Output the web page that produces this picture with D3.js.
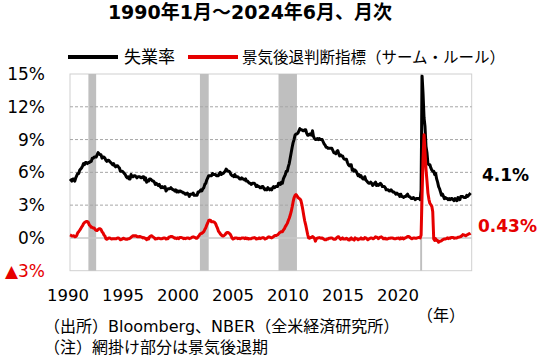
<!DOCTYPE html>
<html>
<head>
<meta charset="utf-8">
<script src="https://cdn.jsdelivr.net/npm/d3@7"></script>
<style>
  body { margin: 0; background: #fff; }
  svg { font-family: "DejaVu Sans", "Noto Sans CJK JP", sans-serif; }
</style>
</head>
<body>
<div id="container"></div>
<script>
// monthly data, Jan 1990 - Jun 2024
const startYear = 1990;

const unemployment = [
  5.4,5.3,5.2,5.4,5.4,5.2,5.5,5.7,5.9,5.9,6.2,6.3,
  6.4,6.6,6.8,6.7,6.9,6.9,6.8,6.9,6.9,7.0,7.0,7.3,
  7.3,7.4,7.4,7.4,7.6,7.8,7.7,7.6,7.6,7.3,7.4,7.4,
  7.3,7.1,7.0,7.1,7.1,7.0,6.9,6.8,6.7,6.8,6.6,6.5,
  6.6,6.6,6.5,6.4,6.1,6.1,6.1,6.0,5.9,5.8,5.6,5.5,
  5.6,5.4,5.4,5.8,5.6,5.6,5.7,5.7,5.6,5.5,5.6,5.6,
  5.6,5.5,5.5,5.6,5.6,5.3,5.5,5.1,5.2,5.2,5.4,5.4,
  5.3,5.2,5.2,5.1,4.9,5.0,4.9,4.8,4.9,4.7,4.6,4.7,
  4.6,4.6,4.7,4.3,4.4,4.5,4.5,4.5,4.6,4.5,4.4,4.4,
  4.3,4.4,4.2,4.3,4.2,4.3,4.3,4.2,4.2,4.1,4.1,4.0,
  4.0,4.1,4.0,3.8,4.0,4.0,4.0,4.1,3.9,3.9,3.9,3.9,
  4.2,4.2,4.3,4.4,4.3,4.5,4.6,4.9,5.0,5.3,5.5,5.7,
  5.7,5.7,5.7,5.9,5.8,5.8,5.8,5.7,5.7,5.7,5.9,6.0,
  5.8,5.9,5.9,6.0,6.1,6.3,6.2,6.1,6.1,6.0,5.8,5.7,
  5.7,5.6,5.8,5.6,5.6,5.6,5.5,5.4,5.4,5.5,5.4,5.4,
  5.3,5.4,5.2,5.2,5.1,5.0,5.0,4.9,5.0,5.0,5.0,4.9,
  4.7,4.8,4.7,4.7,4.6,4.6,4.7,4.7,4.5,4.4,4.5,4.4,
  4.6,4.5,4.4,4.5,4.4,4.6,4.7,4.6,4.7,4.7,4.7,5.0,
  5.0,4.9,5.1,5.0,5.4,5.6,5.8,6.1,6.1,6.5,6.8,7.3,
  7.8,8.3,8.7,9.0,9.4,9.5,9.5,9.6,9.8,10.0,9.9,9.9,
  9.8,9.8,9.9,9.9,9.6,9.4,9.4,9.5,9.5,9.4,9.8,9.3,
  9.1,9.0,9.0,9.1,9.0,9.1,9.0,9.0,9.0,8.8,8.6,8.5,
  8.3,8.3,8.2,8.2,8.2,8.2,8.2,8.0,7.8,7.8,7.7,7.9,
  8.0,7.7,7.5,7.6,7.5,7.5,7.3,7.2,7.2,7.2,6.9,6.7,
  6.6,6.7,6.7,6.2,6.3,6.1,6.2,6.1,5.9,5.7,5.8,5.6,
  5.7,5.5,5.4,5.4,5.6,5.3,5.2,5.1,5.0,5.0,5.1,5.0,
  4.8,4.9,5.0,5.1,4.8,4.9,4.8,4.9,5.0,4.9,4.7,4.7,
  4.7,4.6,4.4,4.4,4.4,4.3,4.3,4.4,4.3,4.2,4.2,4.1,
  4.0,4.1,4.0,4.0,3.8,4.0,3.8,3.8,3.7,3.8,3.8,3.9,
  4.0,3.8,3.8,3.7,3.6,3.6,3.7,3.6,3.5,3.6,3.6,3.6,
  3.6,3.5,4.4,14.8,13.2,11.0,10.2,8.4,7.8,6.8,6.7,6.7,
  6.4,6.2,6.1,6.1,5.8,5.9,5.4,5.1,4.7,4.5,4.2,3.9,
  4.0,3.8,3.6,3.7,3.6,3.6,3.5,3.6,3.5,3.6,3.6,3.5,
  3.4,3.6,3.5,3.4,3.7,3.6,3.5,3.8,3.8,3.8,3.7,3.7,
  3.7,3.9,3.8,3.9,4.0,4.1
];

const sahmRule = [
  0.27,0.23,0.17,0.17,0.2,0.1,0.13,0.23,0.47,0.57,0.7,0.83,
  1.0,1.13,1.3,1.4,1.47,1.5,1.5,1.4,1.17,1.1,0.97,0.97,
  0.9,0.9,0.77,0.7,0.67,0.77,0.83,0.83,0.77,0.57,0.47,0.27,
  0.17,-0.07,-0.13,-0.07,0,0,-0.07,-0.1,-0.07,-0.07,-0.07,-0.07,
  -0.07,0,0,-0.07,-0.17,-0.13,-0.1,-0.03,-0.07,-0.1,-0.13,-0.13,
  -0.07,-0.07,-0.03,0.07,0.13,0.2,0.17,0.2,0.2,0.13,0.1,0.1,
  0.13,0.1,0.07,0,0.03,-0.03,-0.03,-0.17,-0.03,-0.1,0.1,0.17,
  0.2,0.13,0.07,0,-0.1,-0.07,-0.07,-0.03,-0.03,-0.07,-0.07,-0.07,
  -0.03,0,0,-0.1,-0.07,-0.07,0.07,0.1,0.13,0.13,0.1,0.03,
  -0.03,0,-0.07,0,-0.07,0.03,0.03,0.03,0,-0.07,-0.03,-0.07,
  -0.03,0,0,-0.07,-0.03,0,0.07,0.1,0.07,0.03,-0.03,-0.03,
  0.1,0.2,0.33,0.4,0.43,0.5,0.57,0.77,0.93,1.17,1.37,1.6,
  1.63,1.6,1.47,1.47,1.47,1.43,1.33,1.1,0.9,0.63,0.5,0.37,
  0.27,0.2,0.17,0.23,0.3,0.43,0.5,0.5,0.43,0.37,0.2,0,
  -0.1,-0.07,0,0,0,-0.07,-0.03,-0.07,-0.07,0,0,0,
  -0.07,0,-0.07,-0.03,-0.1,-0.07,-0.07,-0.07,0,0,0.03,0,
  -0.1,-0.07,-0.07,0,-0.07,-0.03,0,0.03,0,-0.1,-0.07,-0.03,
  0.07,0.1,0.07,0.03,0,0.07,0.13,0.2,0.23,0.23,0.27,0.37,
  0.47,0.53,0.57,0.57,0.73,0.83,1.03,1.17,1.33,1.57,1.8,2.07,
  2.4,2.83,3.27,3.67,3.87,3.97,3.87,3.7,3.63,3.57,3.43,3.07,
  2.57,2.03,1.57,1.2,0.77,0.33,0,-0.03,0.03,0.03,0.13,0.07,
  -0.03,-0.3,-0.1,0,0,0.03,0,-0.03,0,-0.07,-0.13,-0.17,
  -0.17,-0.1,-0.1,-0.03,-0.03,0,0,-0.07,-0.13,-0.13,-0.1,0.03,
  0.1,0.1,-0.03,-0.13,-0.07,0,-0.1,-0.1,-0.1,-0.03,-0.1,-0.17,
  -0.2,-0.07,0,-0.13,-0.13,-0.2,0,-0.07,-0.07,-0.17,-0.1,-0.1,
  0,-0.1,-0.07,-0.1,0.03,0,-0.07,-0.17,-0.1,-0.07,0,0,
  -0.07,-0.07,0,0.1,0.07,0.03,-0.07,0.03,0.07,0.1,0.03,-0.07,
  -0.07,-0.03,-0.1,-0.1,-0.07,-0.03,-0.03,0,0,-0.03,-0.07,-0.07,
  -0.07,-0.03,-0.03,0,-0.1,0,-0.07,0,-0.1,0,0,0.07,
  0.13,0.13,0.1,0,-0.07,-0.07,0,0,-0.03,-0.03,0,0.03,
  0.03,0,0.27,4.0,7.23,9.43,7.9,6.3,5.23,4.1,3.53,3.17,
  3.03,2.87,2.4,-0.1,-0.23,-0.07,-0.23,-0.23,-0.4,-0.3,-0.3,-0.27,
  -0.17,-0.13,-0.1,-0.1,-0.07,0,-0.07,0,-0.03,0.03,0.03,0.03,
  -0.03,0,0,0,0.07,0.07,0.1,0.13,0.2,0.3,0.27,0.23,
  0.2,0.27,0.3,0.37,0.37,0.43
];

// shaded recession periods (as drawn in the chart)
const recessions = [
  ["1991-08", "1992-04"],
  ["2001-03", "2001-12"],
  ["2007-12", "2009-07"],
  ["2020-02", "2020-04"]
];

const yTicks = [-3, 0, 3, 6, 9, 12, 15];
const yearLabels = [1990, 1995, 2000, 2005, 2010, 2015, 2020];
const seriesNames = ["失業率", "景気後退判断指標（サーム・ルール）"];
const lastLabels = ["4.1%", "0.43%"];

let w = 550;
let h = 363;
let plotLeft = 70, plotRight = 470.6, plotTop = 74, plotBottom = 270.7, frameRight = 471.7;
let black = "#000000";
let red = "#e60000";

let viz = d3.select("#container")
  .append("svg")
  .attr("width", w)
  .attr("height", h);

let parseMonth = d3.timeParse("%Y-%m");
let dates = unemployment.map((v, i) => new Date(startYear, i, 1));

let xScale = d3.scaleTime()
  .domain([dates[0], dates[dates.length - 1]])
  .range([plotLeft, plotRight]);

let yScale = d3.scaleLinear().domain([-3, 15]).range([plotBottom, plotTop]);

// year labels sit on their own evenly spaced scale, like the original
let labelScale = d3.scaleLinear().domain([1990, 2020]).range([67.5, 397.5]);

// title
viz.append("text")
  .attr("x", 250).attr("y", 19)
  .attr("text-anchor", "middle")
  .style("font-size", "19px").style("font-weight", "bold")
  .text("1990年1月～2024年6月、月次");

// legend
let legend = viz.append("g");
legend.append("line").attr("x1", 68).attr("x2", 118).attr("y1", 57).attr("y2", 57)
  .attr("stroke", black).attr("stroke-width", 4);
legend.append("text").attr("x", 124).attr("y", 63).style("font-size", "17px").text(seriesNames[0]);
legend.append("line").attr("x1", 188).attr("x2", 238).attr("y1", 57).attr("y2", 57)
  .attr("stroke", red).attr("stroke-width", 4);
legend.append("text").attr("x", 242).attr("y", 63).style("font-size", "15.5px").text(seriesNames[1]);

// plot frame
viz.append("rect")
  .attr("x", plotLeft).attr("y", plotTop)
  .attr("width", frameRight - plotLeft).attr("height", plotBottom - plotTop)
  .attr("fill", "none").attr("stroke", "#d0d0d0").attr("stroke-width", 1);

// recession shading
viz.append("g").selectAll("rect")
  .data(recessions)
  .join("rect")
  .attr("x", d => xScale(parseMonth(d[0])))
  .attr("width", d => xScale(parseMonth(d[1])) - xScale(parseMonth(d[0])))
  .attr("y", plotTop)
  .attr("height", plotBottom - plotTop)
  .attr("fill", "#bfbfbf");

// gridlines
viz.append("g").selectAll("line")
  .data(yTicks.filter(t => t > 0 && t < 15))
  .join("line")
  .attr("x1", plotLeft).attr("x2", frameRight)
  .attr("y1", d => yScale(d)).attr("y2", d => yScale(d))
  .attr("stroke", "#a6a6a6").attr("stroke-width", 1)
  .attr("stroke-dasharray", "3,2");

viz.append("line")
  .attr("x1", plotLeft).attr("x2", frameRight)
  .attr("y1", yScale(0)).attr("y2", yScale(0))
  .attr("stroke", "#c8c8c8").attr("stroke-width", 1.5);

// y axis
let yAxis = d3.axisLeft(yScale)
  .tickValues(yTicks)
  .tickSize(0)
  .tickPadding(25)
  .tickFormat(d => (d < 0 ? "▲" + Math.abs(d) : d) + "%");
let yAxisGroup = viz.append("g").attr("class", "yaxis")
  .attr("transform", "translate(" + plotLeft + ",0)")
  .call(yAxis);
yAxisGroup.select(".domain").remove();
yAxisGroup.selectAll("text")
  .style("font-size", "17px")
  .style("font-family", "'DejaVu Sans', 'Noto Sans CJK JP', sans-serif")
  .attr("fill", d => d < 0 ? red : "#000");

// x axis labels
let xAxis = d3.axisBottom(labelScale).tickValues(yearLabels).tickSize(0).tickPadding(0)
  .tickFormat(d3.format("d"));
let xAxisGroup = viz.append("g").attr("class", "xaxis")
  .attr("transform", "translate(0,289)")
  .call(xAxis);
xAxisGroup.select(".domain").remove();
xAxisGroup.selectAll("text")
  .style("font-size", "16.5px")
  .style("font-family", "'DejaVu Sans', sans-serif")
  .attr("fill", "#000");

viz.append("text").attr("x", 417).attr("y", 321).style("font-size", "16px").text("（年）");

// lines
let line = d3.line()
  .x((d, i) => xScale(dates[i]))
  .y(d => yScale(d));

viz.append("path")
  .datum(unemployment)
  .attr("d", line)
  .attr("fill", "none")
  .attr("stroke", black)
  .attr("stroke-width", 3)
  .attr("stroke-linejoin", "round");

viz.append("path")
  .datum(sahmRule)
  .attr("d", line)
  .attr("fill", "none")
  .attr("stroke", red)
  .attr("stroke-width", 3)
  .attr("stroke-linejoin", "round");

// last values
viz.append("text")
  .attr("x", 482).attr("y", yScale(unemployment[unemployment.length - 1]) - 12)
  .style("font-size", "17px").style("font-weight", "bold")
  .attr("fill", black).text(lastLabels[0]);
viz.append("text")
  .attr("x", 478).attr("y", yScale(sahmRule[sahmRule.length - 1]) - 1)
  .style("font-size", "17px").style("font-weight", "bold")
  .attr("fill", red).text(lastLabels[1]);

// notes
viz.append("text").attr("x", 44).attr("y", 332).style("font-size", "16px")
  .text("（出所）Bloomberg、NBER（全米経済研究所）");
viz.append("text").attr("x", 44).attr("y", 353).style("font-size", "16px")
  .text("（注）網掛け部分は景気後退期");
</script>
</body>
</html>
